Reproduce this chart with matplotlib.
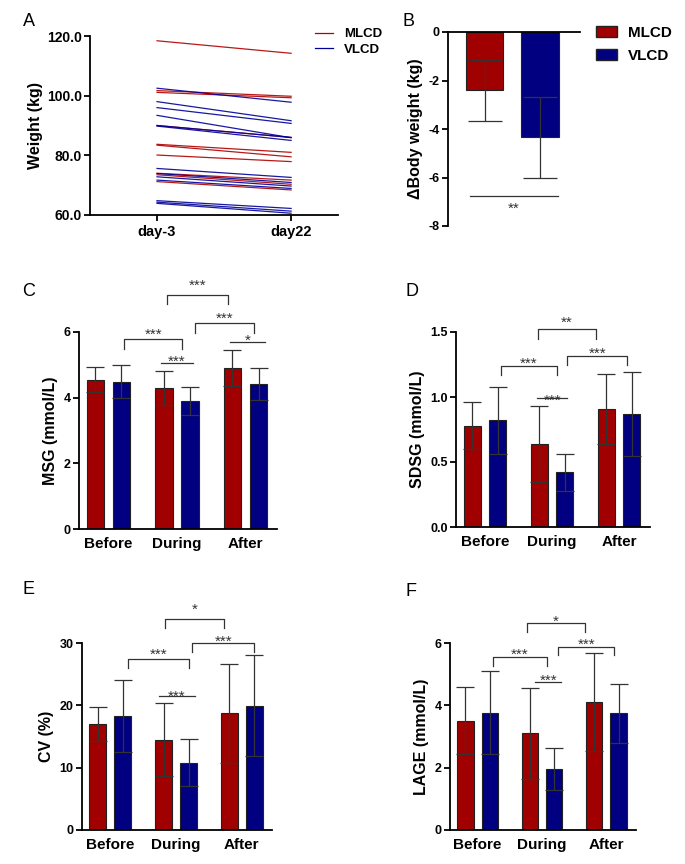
import numpy as np
import matplotlib
matplotlib.use('Agg')
import matplotlib.pyplot as plt
from matplotlib.lines import Line2D
from matplotlib.patches import Patch

plt.rcParams['font.family'] = ['Liberation Sans', 'DejaVu Sans']
plt.rcParams['font.weight'] = 'bold'
plt.rcParams['axes.labelweight'] = 'bold'
plt.rcParams['axes.unicode_minus'] = False

RED = '#a00000'
BLUE = '#000080'
LRED = '#b00000'
LBLUE = '#000099'
EC = '#333333'

# ---- panel A: individual body weights
days = ['day-3', 'day22']
mlcd_w = [[118.4, 114.2], [101.7, 99.8], [101.1, 99.3], [90.0, 86.0],
          [83.7, 81.0], [83.4, 79.5], [80.1, 77.9], [74.0, 71.7],
          [73.5, 70.3], [71.2, 68.4]]
vlcd_w = [[102.5, 97.8], [98.0, 91.6], [96.0, 90.7], [93.4, 85.9],
          [90.0, 86.0], [89.8, 85.0], [75.6, 72.6], [73.9, 70.9],
          [72.8, 69.7], [71.7, 68.9], [64.8, 62.2], [64.3, 61.3],
          [63.9, 60.6]]

# ---- panel B: change in body weight
groups = ['MLCD', 'VLCD']
delta_w = [-2.4, -4.35]
delta_sd = [1.25, 1.65]

# ---- panels C-F
periods = ['Before', 'During', 'After']
msg_mlcd = [4.55, 4.30, 4.91]
msg_mlcd_sd = [0.37, 0.51, 0.54]
msg_vlcd = [4.48, 3.89, 4.42]
msg_vlcd_sd = [0.50, 0.43, 0.49]

sdsg_mlcd = [0.78, 0.64, 0.91]
sdsg_mlcd_sd = [0.18, 0.29, 0.27]
sdsg_vlcd = [0.82, 0.42, 0.87]
sdsg_vlcd_sd = [0.255, 0.14, 0.32]

cv_mlcd = [17.0, 14.5, 18.7]
cv_mlcd_sd = [2.8, 5.8, 7.9]
cv_vlcd = [18.3, 10.8, 19.9]
cv_vlcd_sd = [5.8, 3.8, 8.1]

lage_mlcd = [3.51, 3.10, 4.10]
lage_mlcd_sd = [1.08, 1.45, 1.57]
lage_vlcd = [3.77, 1.96, 3.75]
lage_vlcd_sd = [1.33, 0.68, 0.95]

# significance marks: x1, x2, bracket top, leg end, label, label y
sig_c = [(0.23, 1.08, 5.78, 5.47, '***', 6.05),
         (0.76, 1.24, 5.06, 5.06, '***', 5.22),
         (0.86, 1.75, 7.13, 6.86, '***', 7.55),
         (1.27, 2.12, 6.27, 5.98, '***', 6.53),
         (1.77, 2.29, 5.70, 5.70, '*', 5.86)]
sig_d = [(0.24, 1.07, 1.24, 1.17, '***', 1.29),
         (0.78, 1.23, 0.995, 0.995, '***', 1.01),
         (0.79, 1.65, 1.52, 1.45, '**', 1.61),
         (1.23, 2.12, 1.315, 1.25, '***', 1.37)]
sig_e = [(0.27, 1.19, 27.5, 26.05, '***', 28.9),
         (0.74, 1.29, 21.5, 21.5, '***', 22.15),
         (0.83, 1.73, 33.9, 32.45, '*', 36.0),
         (1.25, 2.19, 30.0, 28.6, '***', 31.0)]
sig_f = [(0.24, 1.07, 5.54, 5.25, '***', 5.76),
         (0.89, 1.30, 4.74, 4.74, '***', 4.93),
         (0.77, 1.66, 6.64, 6.35, '*', 6.82),
         (1.25, 2.12, 5.88, 5.62, '***', 6.10)]

W, H = 685, 864
fig = plt.figure(figsize=(W / 100, H / 100), dpi=100)


def px_axes(left, right, top, bottom):
    return fig.add_axes([left / W, 1 - bottom / H, (right - left) / W, (bottom - top) / H])


def style(ax, ytick_size=9):
    for s in ['top', 'right']:
        ax.spines[s].set_visible(False)
    for s in ['left', 'bottom']:
        ax.spines[s].set_linewidth(1.3)
    ax.tick_params(axis='y', width=1.3, length=4, labelsize=ytick_size, pad=2)


def star(ax, x, y, txt):
    ax.annotate(txt, (x, y), xytext=(0, -6.2), textcoords='offset points',
                ha='center', va='baseline', fontsize=11, fontweight='normal',
                color=EC, annotation_clip=False)


def sig(ax, marks):
    for x1, x2, yt, yl, txt, ty in marks:
        ax.plot([x1, x1, x2, x2], [yl, yt, yt, yl], color=EC, lw=0.9, clip_on=False)
        star(ax, (x1 + x2) / 2, ty, txt)


def bars(ax, m1, s1, m2, s2, ylim, yticks, ylabel, marks, fmt='%g'):
    x = np.arange(len(periods))
    for xs, m, s, c in [(x - 0.19, m1, s1, RED), (x + 0.19, m2, s2, BLUE)]:
        ax.bar(xs, m, 0.255, color=c, edgecolor='#222222', linewidth=0.8)
        ax.errorbar(xs, m, yerr=s, fmt='none', ecolor=EC, elinewidth=0.9,
                    capsize=6.5, capthick=0.9)
    style(ax)
    ax.set_xlim(-0.43, 2.46)
    ax.set_ylim(*ylim)
    ax.set_yticks(yticks)
    ax.set_yticklabels([fmt % v for v in yticks])
    ax.set_xticks(x)
    ax.set_xticklabels(periods, fontsize=11)
    ax.tick_params(axis='x', length=0, pad=6)
    ax.set_ylabel(ylabel, fontsize=11.5, labelpad=4)
    sig(ax, marks)


# ---- A
axA = px_axes(90, 338, 36, 215)
xa = np.arange(len(days))
for w in mlcd_w:
    axA.plot(xa, w, color=LRED, lw=0.9, alpha=0.9)
for w in vlcd_w:
    axA.plot(xa, w, color=LBLUE, lw=0.9, alpha=0.9)
style(axA, ytick_size=10)
axA.set_xlim(-0.5, 1.35)
axA.set_ylim(60, 120)
axA.set_yticks([60, 80, 100, 120])
axA.set_yticklabels(['%.1f' % v for v in [60, 80, 100, 120]])
axA.set_xticks(xa)
axA.set_xticklabels(days, fontsize=10.5)
axA.tick_params(axis='x', width=1.3, length=4)
axA.set_ylabel('Weight (kg)', fontsize=11.5, labelpad=3)
axA.legend([Line2D([], [], color=LRED, lw=0.9), Line2D([], [], color=LBLUE, lw=0.9)],
           groups, loc='upper left', bbox_to_anchor=(315 / W, 1 - 28 / H),
           bbox_transform=fig.transFigure, frameon=False, fontsize=9.5,
           handlelength=1.4, handletextpad=0.8, labelspacing=0.25, borderpad=0,
           borderaxespad=0)

# ---- B
axB = px_axes(448, 580, 32, 226)
xb = np.arange(len(groups))
axB.bar(xb, delta_w, 0.67, color=[RED, BLUE], edgecolor='#222222', linewidth=0.8)
axB.errorbar(xb, delta_w, yerr=delta_sd, fmt='none', ecolor=EC, elinewidth=0.9,
             capsize=12, capthick=0.9)
axB.spines['right'].set_visible(False)
axB.spines['bottom'].set_visible(False)
axB.spines['left'].set_linewidth(1.3)
axB.spines['top'].set_linewidth(1.3)
axB.tick_params(axis='y', width=1.3, length=4, labelsize=9, pad=2)
axB.set_xticks([])
axB.set_xlim(-0.66, 1.72)
axB.set_ylim(-8, 0)
axB.set_yticks([0, -2, -4, -6, -8])
axB.set_ylabel('ΔBody weight (kg)', fontsize=11.5, labelpad=4)
axB.plot([-0.26, 1.32], [-6.75, -6.75], color=EC, lw=0.9)
star(axB, 0.53, -7.12, '**')
axB.legend([Patch(facecolor=RED, edgecolor='#222222'), Patch(facecolor=BLUE, edgecolor='#222222')],
           groups, loc='upper left', bbox_to_anchor=(596 / W, 1 - 26 / H),
           bbox_transform=fig.transFigure, frameon=False, fontsize=11,
           handlelength=1.4, handleheight=0.7, handletextpad=0.7, labelspacing=0.6,
           borderpad=0, borderaxespad=0)

# ---- C-F
axC = px_axes(79, 277, 332, 529)
bars(axC, msg_mlcd, msg_mlcd_sd, msg_vlcd, msg_vlcd_sd, (0, 6), [0, 2, 4, 6],
     'MSG (mmol/L)', sig_c)
axD = px_axes(456, 650, 332, 527)
bars(axD, sdsg_mlcd, sdsg_mlcd_sd, sdsg_vlcd, sdsg_vlcd_sd, (0, 1.5), [0, 0.5, 1.0, 1.5],
     'SDSG (mmol/L)', sig_d, fmt='%.1f')
axE = px_axes(82, 272, 643, 830)
bars(axE, cv_mlcd, cv_mlcd_sd, cv_vlcd, cv_vlcd_sd, (0, 30), [0, 10, 20, 30],
     'CV (%)', sig_e)
axF = px_axes(450, 636, 643, 830)
bars(axF, lage_mlcd, lage_mlcd_sd, lage_vlcd, lage_vlcd_sd, (0, 6), [0, 2, 4, 6],
     'LAGE (mmol/L)', sig_f)

for lab, (x, y) in zip('ABCDEF', [(23, 22), (403, 22), (22, 291), (405, 291), (22, 589), (405, 591)]):
    fig.text(x / W, 1 - y / H, lab, fontsize=13, fontweight='normal', va='center', ha='left')

fig.savefig('out.png', dpi=100)
